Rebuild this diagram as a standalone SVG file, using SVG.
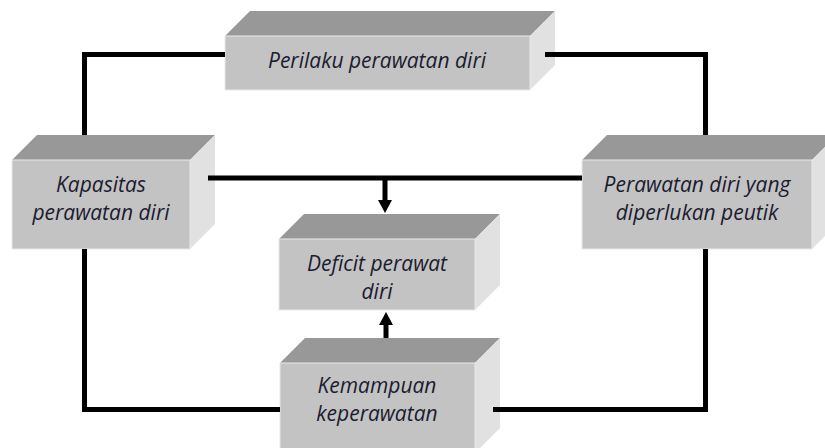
<svg xmlns="http://www.w3.org/2000/svg" width="825" height="448" viewBox="0 0 825 448">
<style>
.front{fill:#c3c3c3;stroke:#e9e9e9;stroke-width:1}
.top{fill:#989898}
.side{fill:#e1e1e1}
.lbl{font-family:"Open Sans","Noto Sans",sans-serif;font-style:italic;font-size:21px;fill:#1c1c30;text-anchor:middle}
.conn{fill:none;stroke:#000;stroke-width:5;stroke-linejoin:miter;stroke-linecap:butt}
</style>
<defs>
<marker id="ah" markerUnits="userSpaceOnUse" markerWidth="13" markerHeight="14" viewBox="0 0 13 14" refX="0" refY="7" orient="auto">
<path d="M0,0 L13,7 L0,14 z" fill="#000"/>
</marker>
</defs>
<rect width="825" height="448" fill="#fff"/>
<g id="node-perilaku">
<polygon class="top" points="225,36 250,11 555,11 530,36"/>
<polygon class="side" points="530,36 555,11 555,65 530,90"/>
<rect class="front" x="225" y="36" width="305" height="54"/>
<text class="lbl" x="377" y="68">Perilaku perawatan diri</text>
</g>
<g id="node-kapasitas">
<polygon class="top" points="12,160 37,135 215,135 190,160"/>
<polygon class="side" points="190,160 215,135 215,224 190,249"/>
<rect class="front" x="12" y="160" width="178" height="89"/>
<text class="lbl" x="101" y="192">Kapasitas</text>
<text class="lbl" x="101" y="220">perawatan diri</text>
</g>
<g id="node-perawatan">
<polygon class="top" points="582,160 607,135 837,135 812,160"/>
<polygon class="side" points="812,160 837,135 837,224 812,249"/>
<rect class="front" x="582" y="160" width="230" height="89"/>
<text class="lbl" x="697" y="192">Perawatan diri yang</text>
<text class="lbl" x="697" y="220">diperlukan peutik</text>
</g>
<g id="node-deficit">
<polygon class="top" points="279,239 304,214 500,214 475,239"/>
<polygon class="side" points="475,239 500,214 500,285 475,310"/>
<rect class="front" x="279" y="239" width="196" height="71"/>
<text class="lbl" x="377" y="271">Deficit perawat</text>
<text class="lbl" x="377" y="299">diri</text>
</g>
<g id="node-kemampuan">
<polygon class="top" points="280,363 305,338 500,338 475,363"/>
<polygon class="side" points="475,363 500,338 500,428 475,453"/>
<rect class="front" x="280" y="363" width="195" height="90"/>
<text class="lbl" x="377" y="393">Kemampuan</text>
<text class="lbl" x="377" y="421">keperawatan</text>
</g>
<g id="connectors">
<path class="conn" d="M84.5,135 V54.5 H225"/>
<path class="conn" d="M545,54.5 H705.5 V135"/>
<path class="conn" d="M84.5,249 V409.5 H280"/>
<path class="conn" d="M493,409.5 H705.5 V249"/>
<path class="conn" d="M208,178 H582"/>
<path class="conn" d="M385,178 V200" marker-end="url(#ah)"/>
<path class="conn" d="M386,338 V325" marker-end="url(#ah)"/>
</g>
</svg>
